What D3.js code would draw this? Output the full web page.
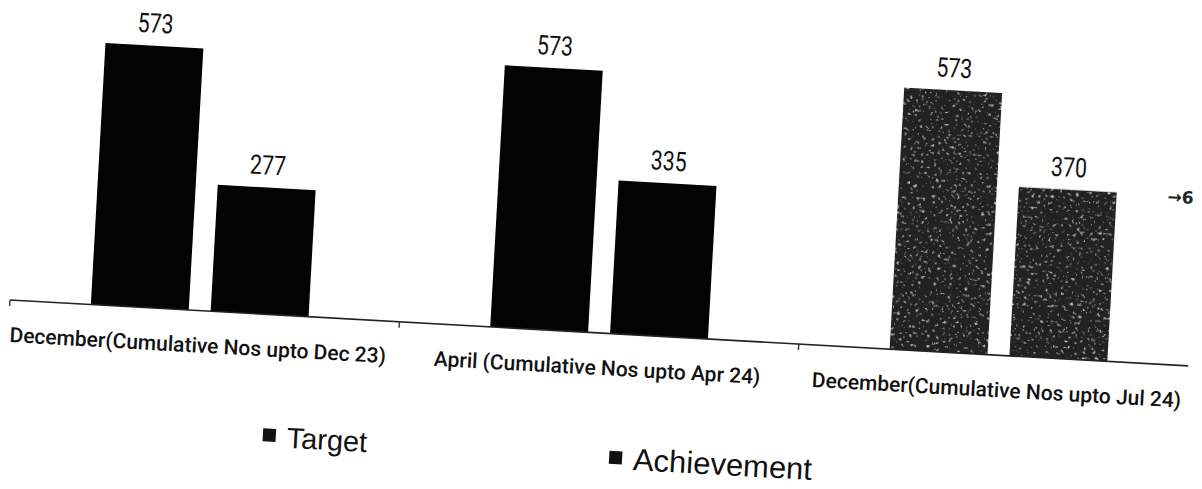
<!DOCTYPE html>
<html>
<head>
<meta charset="utf-8">
<script src="https://cdn.jsdelivr.net/npm/d3@7"></script>
<style>
  html, body { margin: 0; padding: 0; background: #fff; }
  svg { display: block; }
</style>
</head>
<body>
<div id="chart"></div>
<script>
// data
let categories = [
  "December(Cumulative Nos upto Dec 23)",
  "April (Cumulative Nos upto Apr 24)",
  "December(Cumulative Nos upto Jul 24)"
]
let series = ["Target", "Achievement"]
let target = [573, 573, 573]
let achievement = [277, 335, 370]

let W = 1202, H = 489

// the scan is tilted a little, so the upright chart gets rotated round the axis start
let tilt = 3.2, pivot = [10, 300]

let rows = categories.map((c, i) => ({ cat: c, Target: target[i], Achievement: achievement[i], i: i }))

let svg = d3.select("#chart")
  .append("svg")
  .attr("width", W)
  .attr("height", H)

let g = svg.append("g")
  .attr("transform", "rotate(" + tilt + "," + pivot[0] + "," + pivot[1] + ")")

let x = d3.scaleBand()
  .domain(categories)
  .range([0, 1200])
let xSub = d3.scaleBand()
  .domain(series)
  .range([0, x.bandwidth()])
  .paddingInner(0.183)
  .paddingOuter(0.758)
let y = d3.scaleLinear()
  .domain([0, 573])
  .range([300, 38])

// bar colours: the last group came out grey and speckled on the copy
const barFill = (i) => i == 2 ? "#202020" : "#030303"

let defs = svg.append("defs")
let f = defs.append("filter").attr("id", "speck")
f.append("feTurbulence")
  .attr("type", "fractalNoise")
  .attr("baseFrequency", 0.32)
  .attr("numOctaves", 2)
  .attr("seed", 7)
  .attr("result", "n")
f.append("feColorMatrix")
  .attr("in", "n")
  .attr("type", "matrix")
  .attr("values", "0 0 0 0 0.62  0 0 0 0 0.62  0 0 0 0 0.62  -5 0 0 0 1.75")
  .attr("result", "spots")
f.append("feComposite")
  .attr("in", "spots")
  .attr("in2", "SourceGraphic")
  .attr("operator", "in")
  .attr("result", "clipped")
let fm = f.append("feMerge")
fm.append("feMergeNode").attr("in", "SourceGraphic")
fm.append("feMergeNode").attr("in", "clipped")

// bars
let groups = g.selectAll(".grp")
  .data(rows)
  .join("g")
  .attr("class", "grp")
  .attr("transform", d => "translate(" + x(d.cat) + ",0)")

groups.selectAll("rect")
  .data(d => series.map(s => ({ key: s, value: d[s], i: d.i })))
  .join("rect")
  .attr("x", d => xSub(d.key))
  .attr("y", d => y(d.value))
  .attr("width", xSub.bandwidth())
  .attr("height", d => y(0) - y(d.value))
  .attr("fill", d => barFill(d.i))
  .attr("filter", d => d.i == 2 ? "url(#speck)" : null)

// value labels (narrow digits in the original)
groups.selectAll("text.val")
  .data(d => series.map(s => ({ key: s, value: d[s] })))
  .join("text")
  .attr("class", "val")
  .attr("x", d => xSub(d.key) + xSub.bandwidth() / 2)
  .attr("y", d => y(d.value) - 13)
  .attr("text-anchor", "middle")
  .attr("textLength", 36)
  .attr("lengthAdjust", "spacingAndGlyphs")
  .style("font-family", "Roboto, sans-serif")
  .style("font-size", "27px")
  .attr("fill", "#111")
  .text(d => d.value)

// category axis, ticks sit on the group boundaries
let ax = g.append("g")
  .attr("transform", "translate(0," + y(0) + ")")
ax.append("line")
  .attr("x1", 10).attr("x2", 1190)
  .attr("y1", 0).attr("y2", 0)
  .attr("stroke", "#222")
  .attr("stroke-width", 1.6)
ax.selectAll("line.tick")
  .data([10].concat(categories.slice(1).map(c => x(c))))
  .join("line")
  .attr("class", "tick")
  .attr("x1", d => d).attr("x2", d => d)
  .attr("y1", 0).attr("y2", 6)
  .attr("stroke", "#333")
  .attr("stroke-width", 1.4)
ax.selectAll("text")
  .data(categories)
  .join("text")
  .attr("x", d => x(d) + x.bandwidth() / 2)
  .attr("y", 42)
  .attr("text-anchor", "middle")
  .style("font-family", "Roboto, sans-serif")
  .style("font-weight", 500)
  .style("font-size", "21px")
  .attr("fill", "#111")
  .text(d => d)

// stray mark on the right edge of the copy
g.append("text")
  .attr("x", 1160)
  .attr("y", 138)
  .style("font-family", "'DejaVu Sans', sans-serif")
  .style("font-weight", "bold")
  .style("font-size", "17px")
  .attr("fill", "#222")
  .text("\u2192" + "6")

// legend
let leg = g.selectAll(".leg")
  .data(series)
  .join("g")
  .attr("class", "leg")
  .attr("transform", (d, i) => "translate(" + (270 + i * 347) + "," + (421 + i * 3) + ")")
leg.append("rect")
  .attr("x", 0).attr("y", -7)
  .attr("width", 13).attr("height", 13)
  .attr("fill", "#111")
leg.append("text")
  .attr("x", 24)
  .attr("y", 11)
  .style("font-family", "'Liberation Sans', Arial, sans-serif")
  .style("font-size", (d, i) => i ? "31px" : "29px")
  .attr("fill", "#111")
  .text(d => d)
</script>
</body>
</html>
